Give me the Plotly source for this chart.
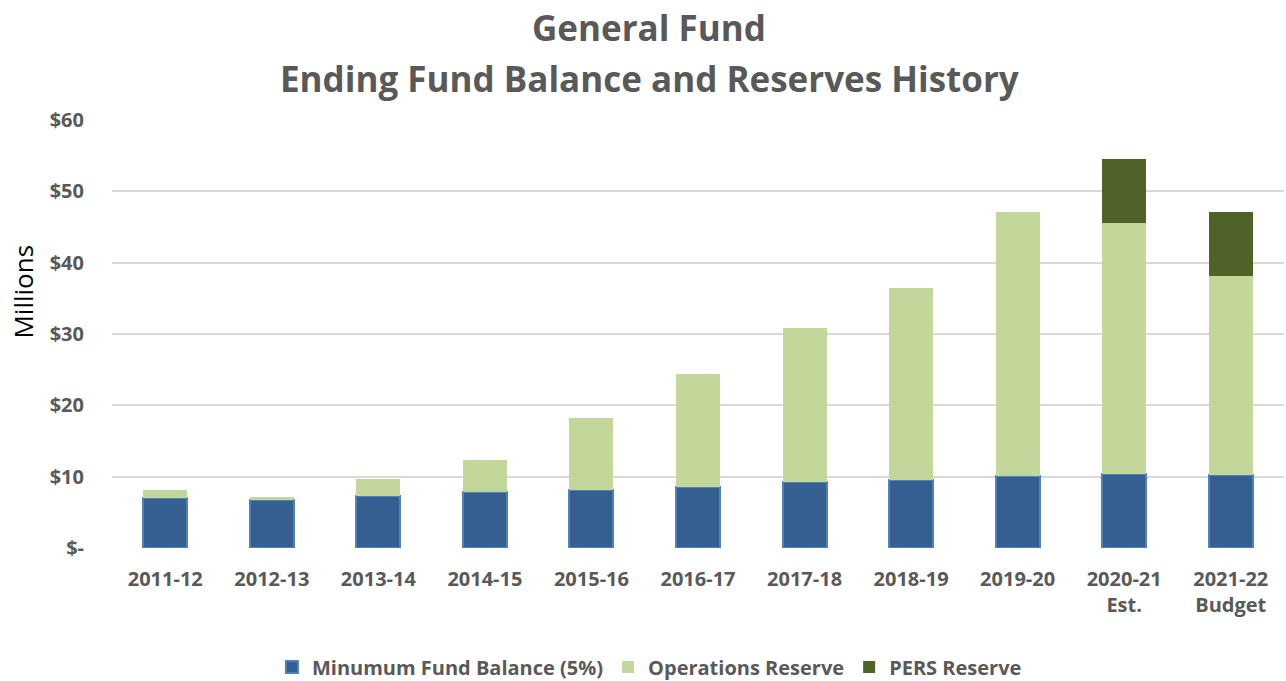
import plotly.graph_objects as go

# fiscal years shown on the x axis
years = ["2011-12", "2012-13", "2013-14", "2014-15", "2015-16", "2016-17",
         "2017-18", "2018-19", "2019-20", "2020-21<br>Est.", "2021-22<br>Budget"]

# values in $ millions
min_fund_balance = [7.0, 6.77, 7.33, 7.8, 8.18, 8.5, 9.26, 9.48, 10.06, 10.4, 10.3]
operations_reserve = [1.17, 0.32, 2.29, 4.49, 10.05, 15.95, 21.54, 27.0, 37.04, 35.13, 27.9]
pers_reserve = [0, 0, 0, 0, 0, 0, 0, 0, 0, 9.0, 8.95]

y_ticks = [0, 10, 20, 30, 40, 50, 60]
y_tick_text = ["$-", "$10", "$20", "$30", "$40", "$50", "$60"]

font_family = "Open Sans, Lato, sans-serif"
gray = "#595959"

fig = go.Figure()

fig.add_trace(go.Bar(x=years, y=min_fund_balance, name="Minumum Fund Balance (5%)",
                     marker=dict(color="#365F91", line=dict(color="#4F81BD", width=2))))
fig.add_trace(go.Bar(x=years, y=operations_reserve, name="Operations Reserve",
                     marker=dict(color="#C4D79B", line=dict(width=0))))
fig.add_trace(go.Bar(x=years, y=pers_reserve, name="PERS Reserve",
                     marker=dict(color="#4F6228", line=dict(width=0))))

# title lines and the rotated y label, placed as annotations
fig.add_annotation(text="General Fund", xref="paper", yref="paper", x=0.4586, y=1.215,
                   showarrow=False, xanchor="center", yanchor="middle",
                   font=dict(family=font_family, size=35, color=gray, weight="bold"))
fig.add_annotation(text="Ending Fund Balance and Reserves History", xref="paper", yref="paper",
                   x=0.4586, y=1.098, showarrow=False, xanchor="center", yanchor="middle",
                   font=dict(family=font_family, size=35, color=gray, weight="bold"))
fig.add_annotation(text="Millions", xref="paper", yref="paper", x=-0.0755, y=0.598,
                   showarrow=False, xanchor="center", yanchor="middle", textangle=-90,
                   font=dict(family=font_family, size=26, color="black"))

fig.update_layout(
    barmode="stack",
    bargap=0.587,
    width=1286,
    height=681,
    margin=dict(l=112, r=2, t=120, b=133),
    plot_bgcolor="white",
    paper_bgcolor="white",
    xaxis=dict(
        type="category",
        tickfont=dict(family=font_family, size=20, color=gray, weight="bold"),
        showgrid=False,
        showline=False,
        ticks="",
        ticklabelstandoff=17,
        automargin=False,
    ),
    yaxis=dict(
        range=[0, 60],
        tickvals=y_ticks,
        ticktext=y_tick_text,
        tickfont=dict(family=font_family, size=20, color=gray, weight="bold"),
        showgrid=True,
        gridcolor="#D9D9D9",
        gridwidth=1.5,
        zeroline=False,
        ticklabelstandoff=27,
        automargin=False,
    ),
    legend=dict(
        orientation="h",
        xref="container", yref="container",
        x=0.505, xanchor="center",
        y=0.0206, yanchor="middle",
        font=dict(family=font_family, size=20, color=gray, weight="bold"),
        traceorder="normal",
        itemwidth=30,
    ),
)

# drop the page's default 8px body margin so the figure sits at the window's corner
fig.write_html("out.html", config={"displayModeBar": False},
               post_script="document.body.style.margin = '0';")
